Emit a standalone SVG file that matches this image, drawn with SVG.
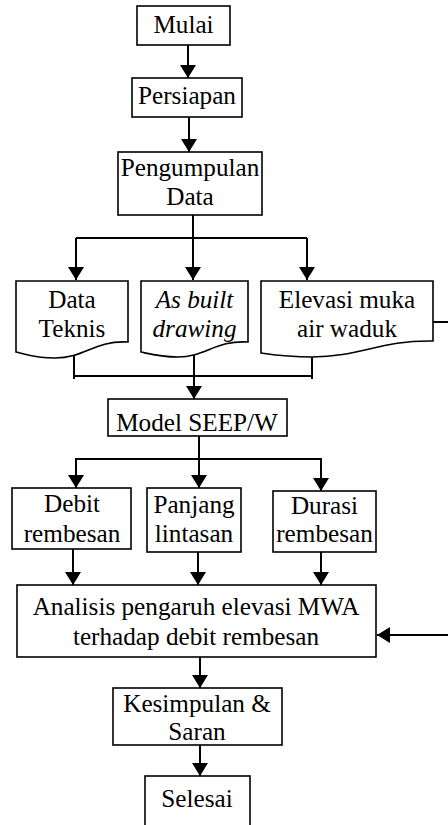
<svg xmlns="http://www.w3.org/2000/svg" width="448" height="825" viewBox="0 0 448 825">
<style>
.box{fill:#fff;stroke:#000;stroke-width:1.6}
.ln{fill:none;stroke:#000;stroke-width:2}
.arr{fill:none;stroke:#000;stroke-width:2;marker-end:url(#ah)}
text{font-family:"Liberation Serif","Times New Roman",serif;font-size:25.2px;fill:#000;text-anchor:middle}
.it{font-style:italic}
</style>
<defs>
<marker id="ah" markerUnits="userSpaceOnUse" viewBox="0 0 13 16" markerWidth="13" markerHeight="16" refX="13" refY="8" orient="auto">
<path d="M0,0 L13,8 L0,16 z" fill="#000"/>
</marker>
</defs>
<rect width="448" height="825" fill="#fff"/>
<g id="connectors">
<line class="arr" x1="188" y1="45" x2="188" y2="78"/>
<line class="arr" x1="189" y1="117" x2="189" y2="152"/>
<line class="arr" x1="193" y1="215" x2="193" y2="280"/>
<path class="ln" d="M76,238 H307"/>
<line class="arr" x1="76" y1="238" x2="76" y2="280"/>
<line class="arr" x1="307" y1="238" x2="307" y2="280"/>
<line class="ln" x1="74" y1="355" x2="74" y2="379"/>
<line class="ln" x1="312" y1="354" x2="312" y2="379"/>
<path class="ln" d="M74,376 H312"/>
<line class="arr" x1="194" y1="352" x2="194" y2="399"/>
<line class="ln" x1="199" y1="436" x2="199" y2="459"/>
<path class="ln" d="M75,459 H322"/>
<line class="arr" x1="76" y1="459" x2="76" y2="488"/>
<line class="arr" x1="199" y1="459" x2="199" y2="488"/>
<line class="arr" x1="321" y1="459" x2="321" y2="491"/>
<line class="arr" x1="73" y1="549" x2="73" y2="585"/>
<line class="arr" x1="198" y1="552" x2="198" y2="585"/>
<line class="arr" x1="321" y1="552" x2="321" y2="585"/>
<path class="arr" d="M432,322 H449 V635 H377"/>
<line class="arr" x1="200" y1="657" x2="200" y2="688"/>
<line class="arr" x1="200" y1="745" x2="200" y2="776"/>
</g>
<g id="mulai">
<rect class="box" x="137" y="6" width="93" height="39"/>
<text x="183.5" y="33">Mulai</text>
</g>
<g id="persiapan">
<rect class="box" x="132" y="78" width="110" height="39"/>
<text x="187" y="104">Persiapan</text>
</g>
<g id="pengumpulan">
<rect class="box" x="118" y="152" width="144" height="63"/>
<text x="190" y="176">Pengumpulan</text>
<text x="190" y="205">Data</text>
</g>
<g id="data-teknis">
<path class="box" d="M16,281 H128 V342 C95,340 85,358 55,358 C35,358 25,354 16,352 Z"/>
<text x="72" y="308">Data</text>
<text x="72" y="337">Teknis</text>
</g>
<g id="as-built">
<path class="box" d="M141,281 H248 V342 C216,340 205,357 178,357 C160,357 150,354 141,352 Z"/>
<text class="it" x="194.5" y="308">As built</text>
<text class="it" x="194.5" y="337">drawing</text>
</g>
<g id="elevasi">
<path class="box" d="M261,281 H433 V341 C380,340 360,357 312,357 C288,357 275,355 261,353 Z"/>
<text x="347" y="308">Elevasi muka</text>
<text x="347" y="337">air waduk</text>
</g>
<g id="model">
<rect class="box" x="108" y="399" width="179" height="37"/>
<text x="197" y="431">Model SEEP/W</text>
</g>
<g id="debit">
<rect class="box" x="12" y="488" width="119" height="61"/>
<text x="72" y="512">Debit</text>
<text x="72" y="542">rembesan</text>
</g>
<g id="panjang">
<rect class="box" x="147" y="488" width="94" height="64"/>
<text x="194" y="513">Panjang</text>
<text x="194" y="542">lintasan</text>
</g>
<g id="durasi">
<rect class="box" x="273" y="491" width="103" height="61"/>
<text x="324.5" y="514">Durasi</text>
<text x="324.5" y="542">rembesan</text>
</g>
<g id="analisis">
<rect class="box" x="17" y="585" width="359" height="72"/>
<text x="196" y="615">Analisis pengaruh elevasi MWA</text>
<text x="196" y="645">terhadap debit rembesan</text>
</g>
<g id="kesimpulan">
<rect class="box" x="113" y="688" width="169" height="57"/>
<text x="197" y="712">Kesimpulan &amp;</text>
<text x="197" y="740">Saran</text>
</g>
<g id="selesai">
<rect class="box" x="145" y="776" width="105" height="60"/>
<text x="197" y="807">Selesai</text>
</g>
</svg>
